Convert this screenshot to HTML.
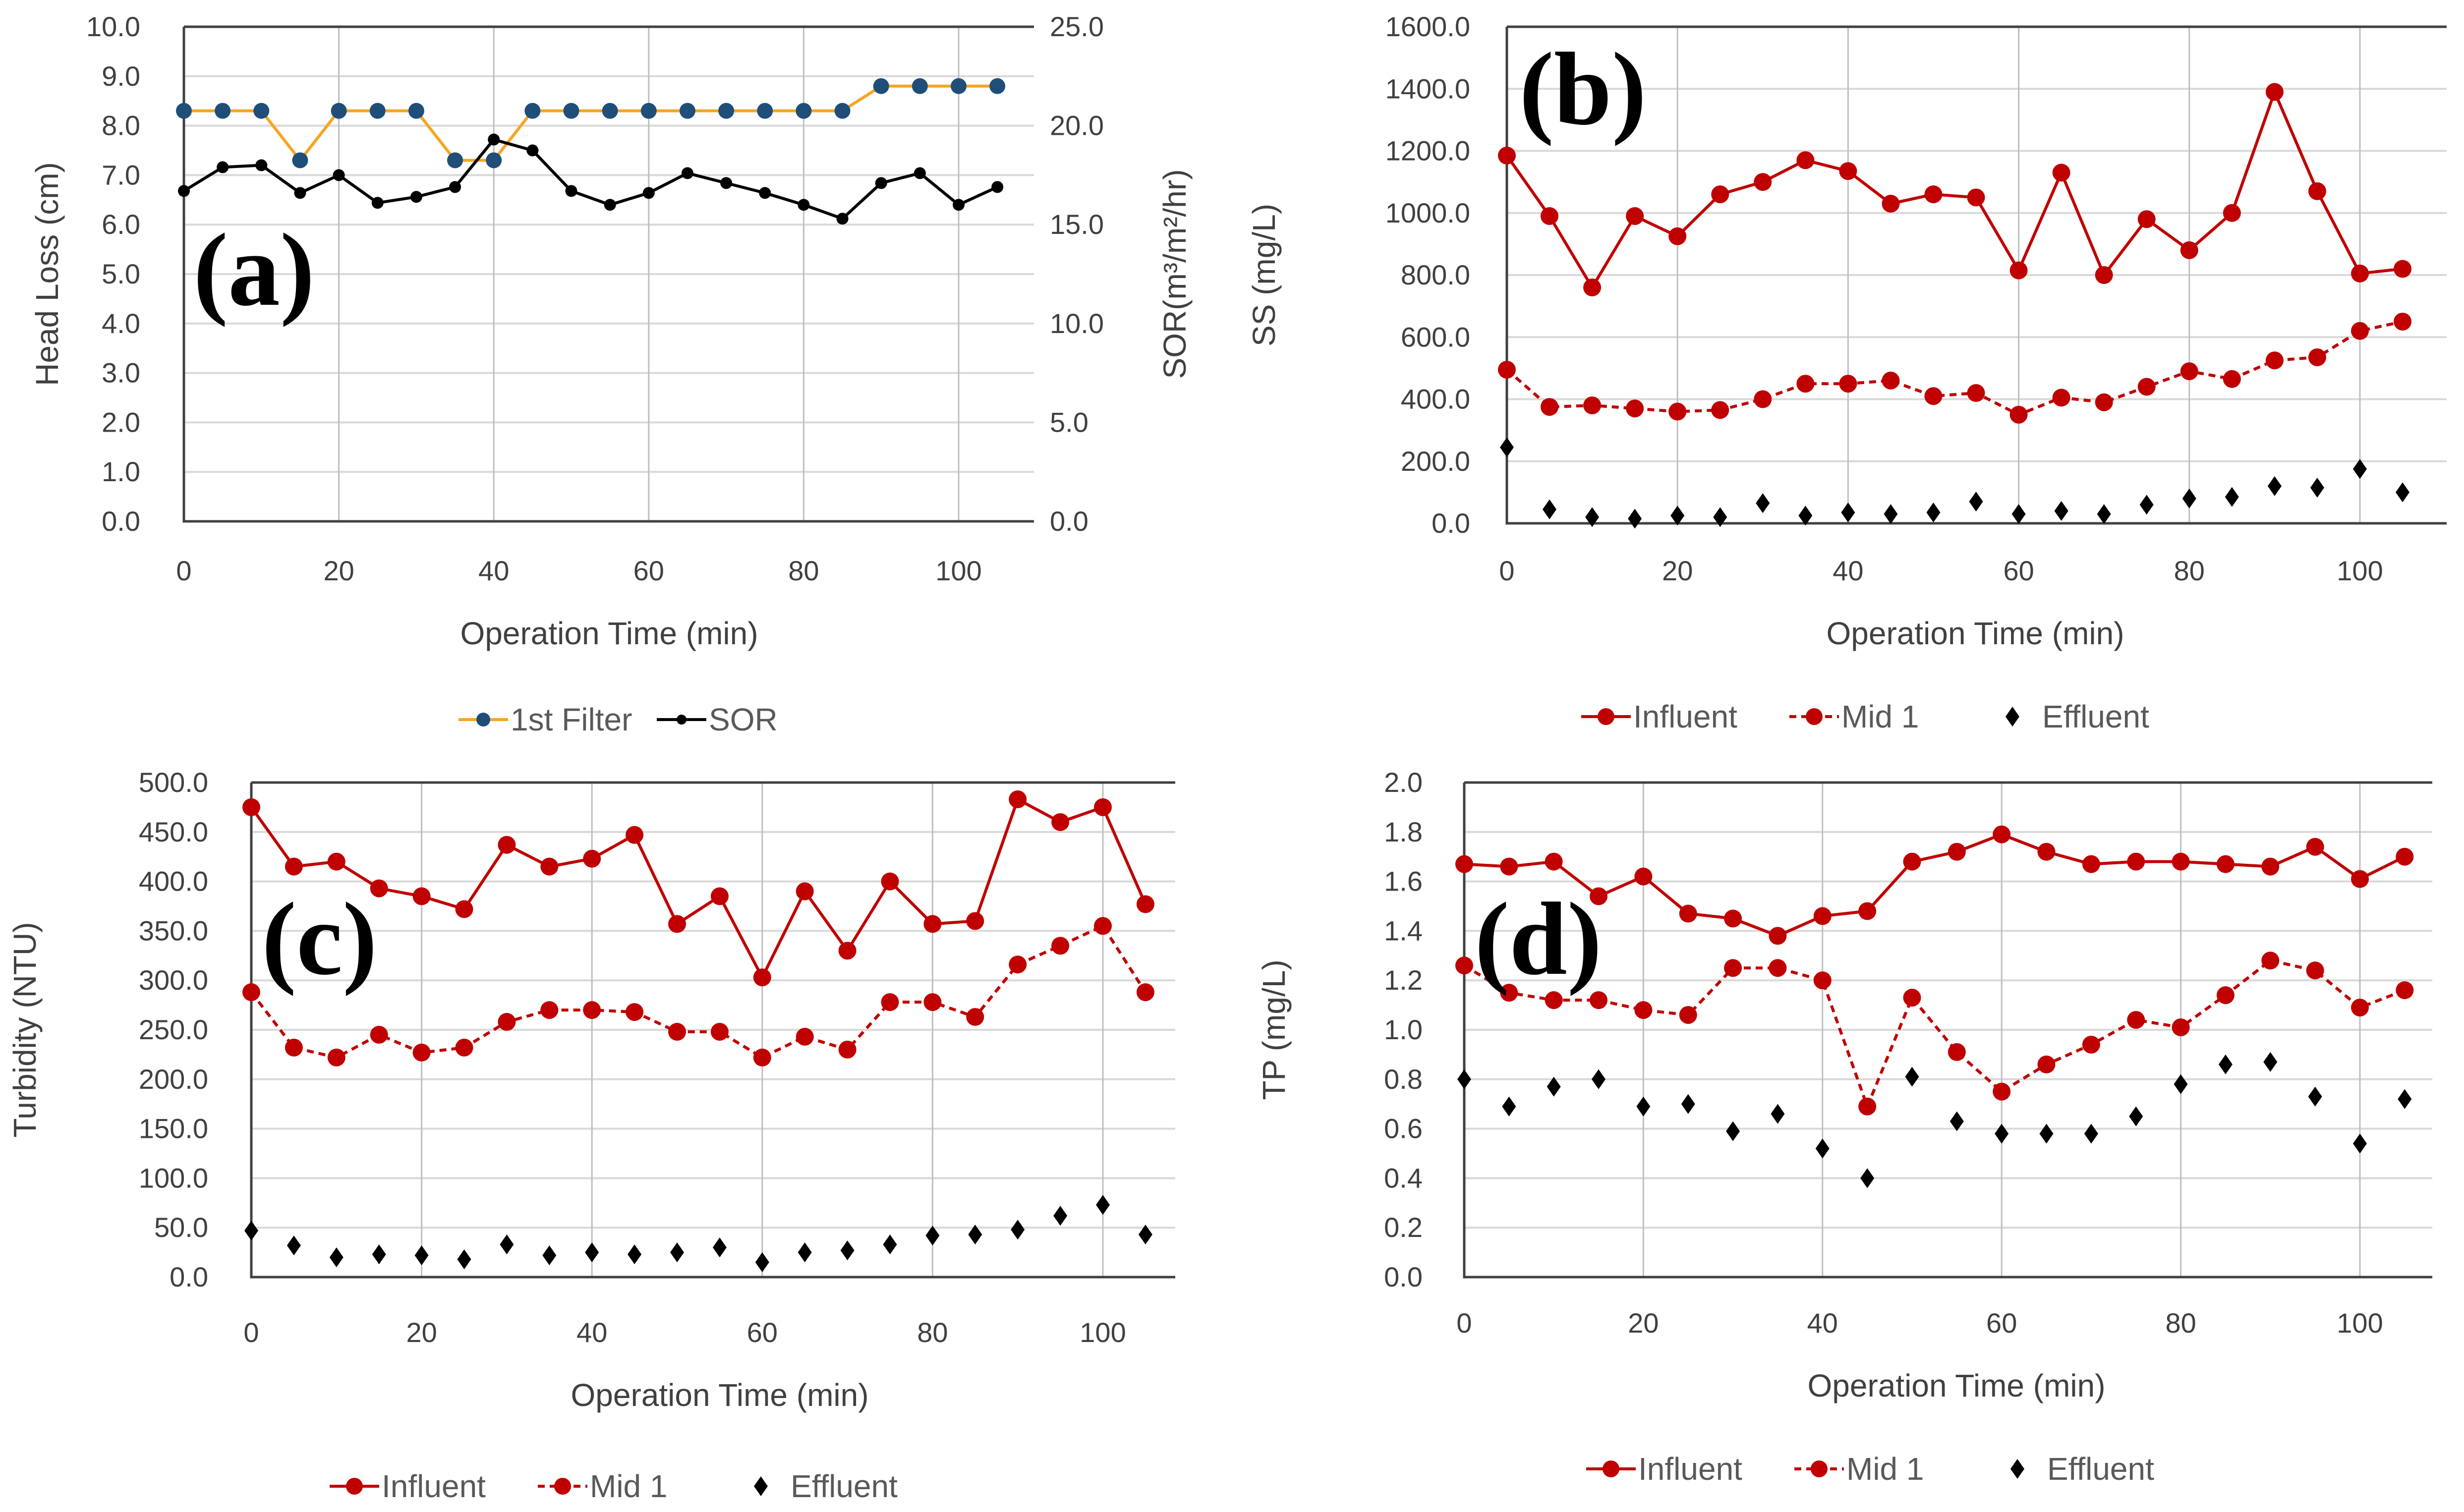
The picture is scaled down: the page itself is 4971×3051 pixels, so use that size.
<!DOCTYPE html>
<html><head><meta charset="utf-8">
<style>
html,body{margin:0;padding:0;background:#fff;}
svg{display:block;}
text{font-family:"Liberation Sans",sans-serif;}
</style></head>
<body>
<svg id="chart" width="4971" height="3051" viewBox="0 0 4971 3051" xmlns="http://www.w3.org/2000/svg"></svg>
<script>
const times = [0,5,10,15,20,25,30,35,40,45,50,55,60,65,70,75,80,85,90,95,100,105];
const xTicks = [0,20,40,60,80,100];
// (a)
const aFilter = [8.3,8.3,8.3,7.3,8.3,8.3,8.3,7.3,7.3,8.3,8.3,8.3,8.3,8.3,8.3,8.3,8.3,8.3,8.8,8.8,8.8,8.8];
const aSOR = [16.7,17.9,18.0,16.6,17.5,16.1,16.4,16.9,19.3,18.75,16.7,16.0,16.6,17.6,17.1,16.6,16.0,15.3,17.1,17.6,16.0,16.9];
const aLeftTicks = ["0.0","1.0","2.0","3.0","4.0","5.0","6.0","7.0","8.0","9.0","10.0"];
const aRightTicks = ["0.0","5.0","10.0","15.0","20.0","25.0"];
// (b)
const bInf = [1185,990,760,990,925,1060,1100,1170,1135,1030,1060,1050,815,1130,800,980,880,1000,1390,1070,805,820];
const bMid = [495,375,380,370,360,365,400,450,450,460,410,420,350,405,390,440,490,465,525,535,620,650];
const bEff = [245,45,20,15,25,20,65,25,35,30,35,70,30,40,30,60,80,85,120,115,175,100];
const bTicks = ["0.0","200.0","400.0","600.0","800.0","1000.0","1200.0","1400.0","1600.0"];
// (c)
const cInf = [475,415,420,393,385,372,437,415,423,447,357,385,303,390,330,400,357,360,483,460,475,377];
const cMid = [288,232,222,245,227,232,258,270,270,268,248,248,222,243,230,278,278,263,316,335,355,288];
const cEff = [47,32,20,23,22,18,33,22,25,23,25,30,15,25,27,33,42,43,48,62,73,43];
const cTicks = ["0.0","50.0","100.0","150.0","200.0","250.0","300.0","350.0","400.0","450.0","500.0"];
// (d)
const dInf = [1.67,1.66,1.68,1.54,1.62,1.47,1.45,1.38,1.46,1.48,1.68,1.72,1.79,1.72,1.67,1.68,1.68,1.67,1.66,1.74,1.61,1.70];
const dMid = [1.26,1.15,1.12,1.12,1.08,1.06,1.25,1.25,1.20,0.69,1.13,0.91,0.75,0.86,0.94,1.04,1.01,1.14,1.28,1.24,1.09,1.16];
const dEff = [0.80,0.69,0.77,0.80,0.69,0.70,0.59,0.66,0.52,0.40,0.81,0.63,0.58,0.58,0.58,0.65,0.78,0.86,0.87,0.73,0.54,0.72];
const dTicks = ["0.0","0.2","0.4","0.6","0.8","1.0","1.2","1.4","1.6","1.8","2.0"];

const NS="http://www.w3.org/2000/svg";
const svg=document.getElementById('chart');
function mk(tag,attrs,parent,txt){const e=document.createElementNS(NS,tag);for(const k in attrs)e.setAttribute(k,attrs[k]);if(txt!==undefined)e.textContent=txt;(parent||svg).appendChild(e);return e;}
const RED="#c00000";

function panel(P){
  const g=mk('g',{});
  
  
  const xs=v=>P.x0+(v/100)*(P.x100-P.x0);
  const ys=v=>P.bottom-(v/P.ymax)*(P.bottom-P.top);
  P.ticks.forEach(t=>{const v=parseFloat(t);const y=ys(v);
    const l=mk('line',{x1:P.x0,x2:P.right,y1:y,y2:y,stroke:'#d9d9d9','stroke-width':4},g);
    
    const tx=mk('text',{x:P.labelX,y:y+19,'text-anchor':'end','font-size':56,fill:'#404040'},g,t);
    
  });
  xTicks.forEach(v=>{const x=xs(v);
    if(v>0){const l=mk('line',{x1:x,x2:x,y1:P.top,y2:P.bottom,stroke:'#bfbfbf','stroke-width':3},g);
      }
    const tx=mk('text',{x:x,y:P.xTickY+20,'text-anchor':'middle','font-size':56,fill:'#404040'},g,String(v));
    
  });
  const ax=mk('path',{d:`M${P.x0},${P.top} H${P.right} M${P.x0},${P.top} V${P.bottom} H${P.right}`,stroke:'#404040','stroke-width':5,fill:'none'},g);
  
  const xt=mk('text',{x:P.xTitleX,y:P.xTitleY+22,'text-anchor':'middle','font-size':64,fill:'#404040'},g,'Operation Time (min)');
  
  const yt=mk('text',{x:0,y:0,'text-anchor':'middle','font-size':64,fill:'#404040',transform:`translate(${P.yTitleX+22},${(P.top+P.bottom)/2}) rotate(-90)`},g,P.yTitle);
  
  P.series.forEach(s=>{
    const sc=s.scale||1;
    const sg=mk('g',{},g);
    
    if(s.line){
      const pts=s.data.map((v,i)=>`${xs(times[i])},${ys(v*sc)}`).join(' ');
      const pl=mk('polyline',{points:pts,fill:'none',stroke:s.line,'stroke-width':6,'stroke-dasharray':s.dash||'none'},sg);
      
    }
    s.data.forEach((v,i)=>{const x=xs(times[i]),y=ys(v*sc);let m;
      if(s.marker==='diamond'){m=mk('path',{d:`M${x},${y-20} L${x+14},${y} L${x},${y+20} L${x-14},${y} Z`,fill:s.mcolor},sg);}
      else m=mk('circle',{cx:x,cy:y,r:s.r,fill:s.mcolor},sg);
      
    });
  });
  const pl=mk('text',{x:P.tagX,y:P.tagY,'font-size':210,'font-weight':'bold',fill:'#000',style:'font-family:"Liberation Serif",serif'},g,P.tag);
  
  const lg=mk('g',{},g);
  let lx=P.legX;const ly=P.legY;
  P.legend.forEach(e=>{
    const eg=mk('g',{},lg);
    if(e.line) mk('line',{x1:lx,x2:lx+100,y1:ly,y2:ly,stroke:e.line,'stroke-width':6,'stroke-dasharray':e.dash||'none'},eg);
    if(e.marker==='diamond') mk('path',{d:`M${lx+50},${ly-20} L${lx+64},${ly} L${lx+50},${ly+20} L${lx+36},${ly} Z`,fill:e.mcolor},eg);
    else mk('circle',{cx:lx+50,cy:ly,r:e.r,fill:e.mcolor},eg);
    mk('text',{x:lx+(e.line?105:110),y:ly+22,'font-size':64,fill:'#595959'},eg,e.label);
    lx+=e.w;
  });
}

const infL={label:'Influent',line:RED,mcolor:RED,r:17,w:420};
const midL={label:'Mid 1',line:RED,dash:'14,10',mcolor:RED,r:17,w:400};
const effL={label:'Effluent',marker:'diamond',mcolor:'#000',w:400};

panel({name:'panel-a-head-loss',tag:'(a)',tagX:390,tagY:615,x0:371,x100:1934,right:2086,top:54,bottom:1052,ymax:10,
  ticks:aLeftTicks,labelX:283,xTickY:1151,xTitleX:1229,xTitleY:1278,yTitleX:95,yTitle:'Head Loss (cm)',
  series:[{name:'first-filter-series',data:aFilter,line:'#f5a623',mcolor:'#1f4e79',r:16},
          {name:'sor-series',data:aSOR,scale:0.4,line:'#000',mcolor:'#000',r:12}],
  legX:925,legY:1452,legend:[{label:'1st Filter',line:'#f5a623',mcolor:'#1f4e79',r:14,w:400},{label:'SOR',line:'#000',mcolor:'#000',r:10,w:300}]});
(function(){
  const top=54,bottom=1052;
  aRightTicks.forEach(t=>{const v=parseFloat(t);const y=bottom-(v/25)*(bottom-top);
    const tx=mk('text',{x:2118,y:y+19,'font-size':56,fill:'#404040'},svg,t);
    });
  const yt=mk('text',{x:0,y:0,'text-anchor':'middle','font-size':64,fill:'#404040',transform:`translate(2392,553) rotate(-90)`},svg,'SOR(m³/m²/hr)');
  
})();

panel({name:'panel-b-ss',tag:'(b)',tagX:3065,tagY:250,x0:3040,x100:4761,right:4936,top:54,bottom:1056,ymax:1600,
  ticks:bTicks,labelX:2966,xTickY:1151,xTitleX:3985,xTitleY:1278,yTitleX:2550,yTitle:'SS (mg/L)',
  series:[{name:'influent-series',data:bInf,line:RED,mcolor:RED,r:18},
          {name:'mid1-series',data:bMid,line:RED,dash:'14,10',mcolor:RED,r:18},
          {name:'effluent-series',data:bEff,marker:'diamond',mcolor:'#000'}],
  legX:3190,legY:1446,legend:[infL,midL,effL]});

panel({name:'panel-c-turbidity',tag:'(c)',tagX:528,tagY:1965,x0:507,x100:2225,right:2371,top:1579,bottom:2577,ymax:500,
  ticks:cTicks,labelX:420,xTickY:2688,xTitleX:1452,xTitleY:2815,yTitleX:50,yTitle:'Turbidity (NTU)',
  series:[{name:'influent-series',data:cInf,line:RED,mcolor:RED,r:18},
          {name:'mid1-series',data:cMid,line:RED,dash:'14,10',mcolor:RED,r:18},
          {name:'effluent-series',data:cEff,marker:'diamond',mcolor:'#000'}],
  legX:665,legY:2999,legend:[infL,midL,effL]});

panel({name:'panel-d-tp',tag:'(d)',tagX:2975,tagY:1965,x0:2954,x100:4761,right:4907,top:1579,bottom:2577,ymax:2,
  ticks:dTicks,labelX:2870,xTickY:2669,xTitleX:3947,xTitleY:2796,yTitleX:2570,yTitle:'TP (mg/L)',
  series:[{name:'influent-series',data:dInf,line:RED,mcolor:RED,r:18},
          {name:'mid1-series',data:dMid,line:RED,dash:'14,10',mcolor:RED,r:18},
          {name:'effluent-series',data:dEff,marker:'diamond',mcolor:'#000'}],
  legX:3200,legY:2964,legend:[infL,midL,effL]});
</script>
</body></html>
